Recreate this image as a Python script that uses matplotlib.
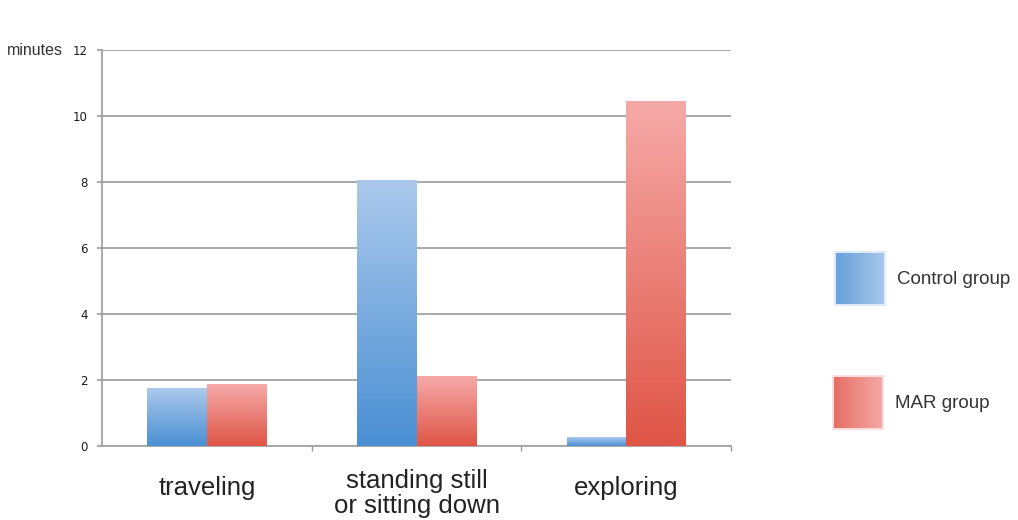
import numpy as np
import matplotlib.pyplot as plt
from matplotlib.colors import LinearSegmentedColormap
from matplotlib.transforms import blended_transform_factory

categories = ["traveling", "standing still\nor sitting down", "exploring"]
series_names = ["Control group", "MAR group"]
control_minutes = [1.75, 8.05, 0.27]
mar_minutes = [1.87, 2.12, 10.45]
y_ticks = [0, 2, 4, 6, 8, 10, 12]

# light top -> dark bottom for each group
blue_cmap = LinearSegmentedColormap.from_list("blue_fade", ["#4a8fd3", "#abc9ec"])
red_cmap = LinearSegmentedColormap.from_list("red_fade", ["#df5546", "#f6aaa8"])

fig = plt.figure(figsize=(10.18, 5.2), dpi=100)
ax = fig.add_axes([0.1002, 0.1423, 0.6179, 0.7615])

x = np.arange(len(categories)) + 0.5
width = 0.284
grad = np.linspace(0, 1, 256).reshape(-1, 1)


def gradient_bars(xpos, values, cmap):
    bars = ax.bar(xpos, values, width, color="none", edgecolor="none", zorder=3)
    for b in bars:
        x0, y0 = b.get_x(), b.get_y()
        ax.imshow(grad, cmap=cmap, origin="lower", aspect="auto",
                  extent=(x0, x0 + b.get_width(), y0, y0 + b.get_height()),
                  zorder=3, interpolation="bicubic")
    return bars


gradient_bars(x - width / 2, control_minutes, blue_cmap)
gradient_bars(x + width / 2, mar_minutes, red_cmap)

ax.set_xlim(0, 3)
ax.set_ylim(0, 12)
ax.set_yticks(y_ticks)
ax.set_yticklabels([str(t) for t in y_ticks], fontsize=8.5, color="#1a1a1a",
                   family="DejaVu Sans")
ax.yaxis.grid(True, color="#a3a3a3", linewidth=1.3, zorder=0)
ax.set_axisbelow(True)

ax.set_xticks([1, 2, 3])
ax.set_xticklabels([])
ax.tick_params(axis="x", length=3.5, color="#999999", width=1)
ax.tick_params(axis="y", length=3.5, color="#a3a3a3", width=1.3, pad=7)
for side in ["top", "right"]:
    ax.spines[side].set_visible(False)
for side in ["left", "bottom"]:
    ax.spines[side].set_color("#a3a3a3")
    ax.spines[side].set_linewidth(1.3)

# category names; baseline is the last line, so two-line names sit lower
trans = blended_transform_factory(ax.transData, fig.transFigure)
for xi, lab in zip(x, categories):
    nlines = lab.count("\n") + 1
    base_px = 495 + 18 * (nlines - 1)
    ax.text(xi, 1 - base_px / 520, lab, ha="center", va="baseline", fontsize=18.5,
            family="Liberation Sans", color="#222222", linespacing=1.03,
            transform=trans)

fig.text(0.007, 1 - 55 / 520, "minutes", fontsize=11.5, family="Liberation Sans",
         color="#333333", va="baseline")

# legend swatches with horizontal fade
over = fig.add_axes([0, 0, 1, 1], facecolor="none")
over.set_xlim(0, 1018)
over.set_ylim(520, 0)
over.axis("off")
hgrad = np.linspace(0, 1, 256).reshape(1, -1)
swatches = [(836, 253, blue_cmap), (834, 377, red_cmap)]
for (sx, sy, cm), name in zip(swatches, series_names):
    over.add_patch(plt.Rectangle((sx - 2, sy - 2), 52, 55, color=cm(0.9), alpha=0.35, lw=0))
    over.imshow(hgrad, cmap=cm, aspect="auto", extent=(sx, sx + 48, sy + 51, sy),
                interpolation="bicubic")
    over.text(sx + 61, sy + 26, name, fontsize=13.5, family="Liberation Sans",
              color="#333333", va="center", ha="left")

fig.savefig("out.png", dpi=100)
